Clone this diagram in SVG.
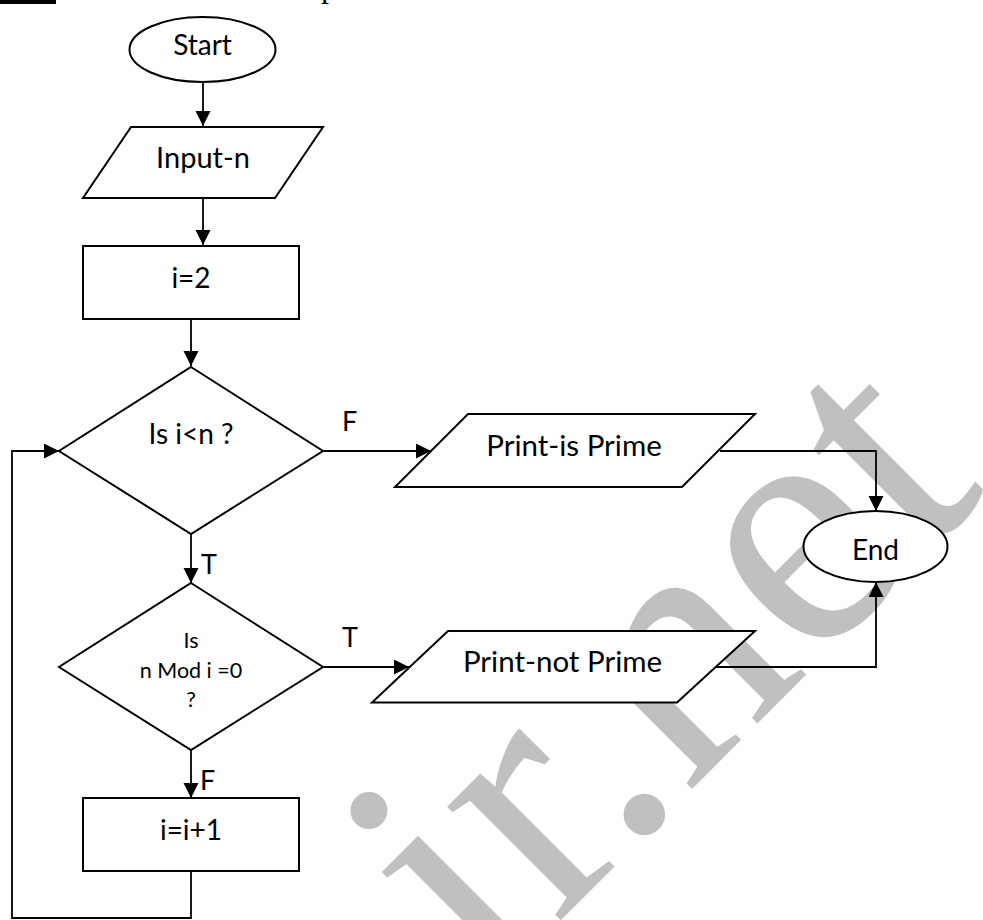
<svg xmlns="http://www.w3.org/2000/svg" width="983" height="920" viewBox="0 0 983 920">
  <style>
    .shape { fill: #fff; stroke: #000; stroke-width: 2; }
    .wire { fill: none; stroke: #000; stroke-width: 1.8; }
    .lbl { font-family: Lato, "Open Sans", sans-serif; font-size: 28px; fill: #000; text-anchor: middle; }
    .big { font-size: 29.5px; }
    .small { font-family: Lato, "Open Sans", sans-serif; font-size: 21.5px; fill: #000; text-anchor: middle; }
    .tag { font-family: Lato, "Open Sans", sans-serif; font-size: 27px; fill: #000; }
    .mark { font-family: "Liberation Serif", serif; font-size: 350px; fill: #c0c0c0; }
  </style>
  <defs>
    <marker id="arrow" markerUnits="userSpaceOnUse" markerWidth="16" markerHeight="16" refX="15" refY="7.5" orient="auto">
      <path d="M0,0 L15,7.5 L0,15 z" fill="#000"/>
    </marker>
  </defs>

  <rect width="983" height="920" fill="#fff"/>

  <!-- page fragments above the chart -->
  <rect x="0" y="0" width="56" height="4" fill="#000"/>
  <text x="321" y="-3" font-family="Liberation Serif, serif" font-size="32" fill="#000">p</text>

  <!-- background watermark -->
  <text class="mark" transform="translate(487,994) rotate(-45)">ir.net</text>

  <g id="connectors">
    <path class="wire" d="M203,82 V126" marker-end="url(#arrow)"/>
    <path class="wire" d="M203,198 V245" marker-end="url(#arrow)"/>
    <path class="wire" d="M191,319 V366" marker-end="url(#arrow)"/>
    <path class="wire" d="M323,451 H431" marker-end="url(#arrow)"/>
    <path class="wire" d="M720,451 H876 V511" marker-end="url(#arrow)"/>
    <path class="wire" d="M191,534 V583" marker-end="url(#arrow)"/>
    <path class="wire" d="M323,667 H409" marker-end="url(#arrow)"/>
    <path class="wire" d="M716,667 H876 V582" marker-end="url(#arrow)"/>
    <path class="wire" d="M191,750 V798" marker-end="url(#arrow)"/>
    <path class="wire" d="M191,871 V918 H12 V451 H59" marker-end="url(#arrow)"/>
    <text class="tag" x="342" y="431">F</text>
    <text class="tag" x="201" y="574">T</text>
    <text class="tag" x="342" y="647">T</text>
    <text class="tag" x="200" y="790">F</text>
  </g>

  <g id="start">
    <ellipse class="shape" cx="202.5" cy="49.5" rx="73" ry="32.5"/>
    <text class="lbl" x="202.5" y="55">Start</text>
  </g>

  <g id="input">
    <polygon class="shape" points="131,127 323,127 275,198 83,198"/>
    <text class="lbl" x="203" y="168" style="font-size:29px">Input-n</text>
  </g>

  <g id="init">
    <rect class="shape" x="83" y="246" width="216" height="73"/>
    <text class="lbl" x="191" y="288">i=2</text>
  </g>

  <g id="test-range">
    <polygon class="shape" points="191,367 323,451 191,534 59,451"/>
    <text class="lbl" x="191" y="444">Is i&lt;n ?</text>
  </g>

  <g id="print-prime">
    <polygon class="shape" points="468,414 755,414 682,487 395,487"/>
    <text class="lbl big" x="574" y="456">Print-is Prime</text>
  </g>

  <g id="end">
    <ellipse class="shape" cx="875.5" cy="546.5" rx="72" ry="35.5"/>
    <text class="lbl" x="875.5" y="560">End</text>
  </g>

  <g id="test-mod">
    <polygon class="shape" points="191,583 323,667 191,750 59,667"/>
    <text class="small" x="191" y="648">Is</text>
    <text class="small" x="191" y="678">n Mod i =0</text>
    <text class="small" x="191" y="707">?</text>
  </g>

  <g id="print-not-prime">
    <polygon class="shape" points="448,631 755,631 677,702.5 372,702.5"/>
    <text class="lbl big" x="562.5" y="672">Print-not Prime</text>
  </g>

  <g id="increment">
    <rect class="shape" x="83" y="798" width="216" height="73"/>
    <text class="lbl" x="191" y="840">i=i+1</text>
  </g>
</svg>
